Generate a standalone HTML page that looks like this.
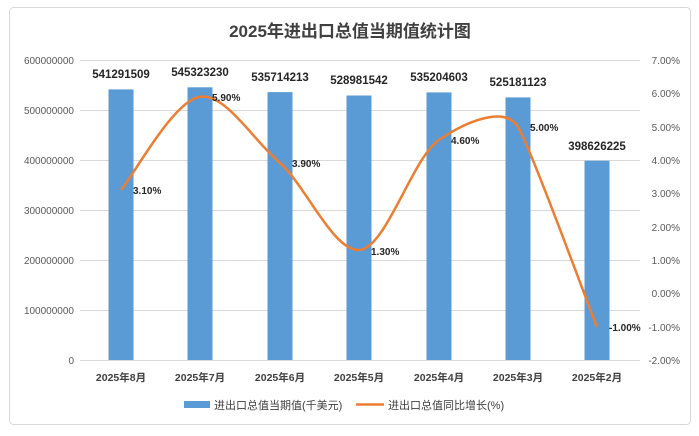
<!DOCTYPE html>
<html><head><meta charset="utf-8"><style>
body{margin:0;background:#fff;}
svg text{font-family:"Liberation Sans","Noto Sans CJK SC",sans-serif;}
</style></head><body>
<svg width="699" height="431" xmlns="http://www.w3.org/2000/svg">
<rect x="9.5" y="7.5" width="681" height="417" rx="4" fill="#fff" stroke="#d9d9d9"/>
<text x="350" y="37" text-anchor="middle" font-size="17" font-weight="bold" fill="#404040">2025年进出口总值当期值统计图</text>
<g stroke="#d9d9d9" stroke-width="1">
<line x1="80" x2="640" y1="60.5" y2="60.5"/><line x1="80" x2="640" y1="110.5" y2="110.5"/>
<line x1="80" x2="640" y1="160.5" y2="160.5"/><line x1="80" x2="640" y1="210.5" y2="210.5"/>
<line x1="80" x2="640" y1="260.5" y2="260.5"/><line x1="80" x2="640" y1="310.5" y2="310.5"/>
<line x1="80" x2="640" y1="360.5" y2="360.5"/>
</g>
<g font-size="10" fill="#595959" text-anchor="end">
<text x="74" y="64">600000000</text><text x="74" y="114">500000000</text><text x="74" y="164">400000000</text>
<text x="74" y="214">300000000</text><text x="74" y="264">200000000</text><text x="74" y="314">100000000</text><text x="74" y="364">0</text>
</g>
<g font-size="10" fill="#595959" text-anchor="end">
<text x="680" y="64">7.00%</text><text x="680" y="97">6.00%</text><text x="680" y="131">5.00%</text>
<text x="680" y="164">4.00%</text><text x="680" y="197">3.00%</text><text x="680" y="231">2.00%</text>
<text x="680" y="264">1.00%</text><text x="680" y="297">0.00%</text><text x="680" y="331">-1.00%</text><text x="680" y="364">-2.00%</text>
</g>
<g fill="#5b9bd5">
<rect x="108.5" y="89.4" width="25" height="270.6"/>
<rect x="187.5" y="87.3" width="25" height="272.7"/>
<rect x="267.5" y="92.1" width="25" height="267.9"/>
<rect x="346.5" y="95.5" width="25" height="264.5"/>
<rect x="426.5" y="92.4" width="25" height="267.6"/>
<rect x="505.5" y="97.4" width="25" height="262.6"/>
<rect x="584.5" y="160.7" width="25" height="199.3"/>
</g>
<g font-size="11.5" font-weight="bold" fill="#262626" text-anchor="middle">
<text x="121" y="78">541291509</text><text x="200" y="76">545323230</text><text x="280" y="81">535714213</text>
<text x="359" y="84">528981542</text><text x="439" y="81">535204603</text><text x="518" y="86">525181123</text><text x="597" y="150">398626225</text>
</g>
<path d="M121,190 C134,174.5 174,100 200,96.7 C226,93.4 253,140 280,163 C306,186 333,251 359,250 C386,249 412,158 439,140 C465,122 505,105 518,127 C531,149 584,294 597,327" fill="none" stroke="#ed7d31" stroke-width="2.5"/>
<g font-size="10" font-weight="bold" fill="#262626">
<text x="133" y="194">3.10%</text><text x="212" y="101">5.90%</text><text x="292" y="167">3.90%</text>
<text x="371" y="255">1.30%</text><text x="451" y="144">4.60%</text><text x="530" y="131">5.00%</text><text x="609" y="331">-1.00%</text>
</g>
<g font-size="10.5" font-weight="bold" fill="#404040" text-anchor="middle">
<text x="121" y="381">2025年8月</text><text x="200" y="381">2025年7月</text><text x="280" y="381">2025年6月</text>
<text x="359" y="381">2025年5月</text><text x="439" y="381">2025年4月</text><text x="518" y="381">2025年3月</text><text x="597" y="381">2025年2月</text>
</g>
<rect x="184" y="401" width="26" height="7" fill="#5b9bd5"/>
<text x="214" y="409" font-size="11" fill="#404040">进出口总值当期值(千美元)</text>
<line x1="356" x2="384" y1="404.5" y2="404.5" stroke="#ed7d31" stroke-width="2.5"/>
<text x="388" y="409" font-size="11" fill="#404040">进出口总值同比增长(%)</text>
</svg>
</body></html>
